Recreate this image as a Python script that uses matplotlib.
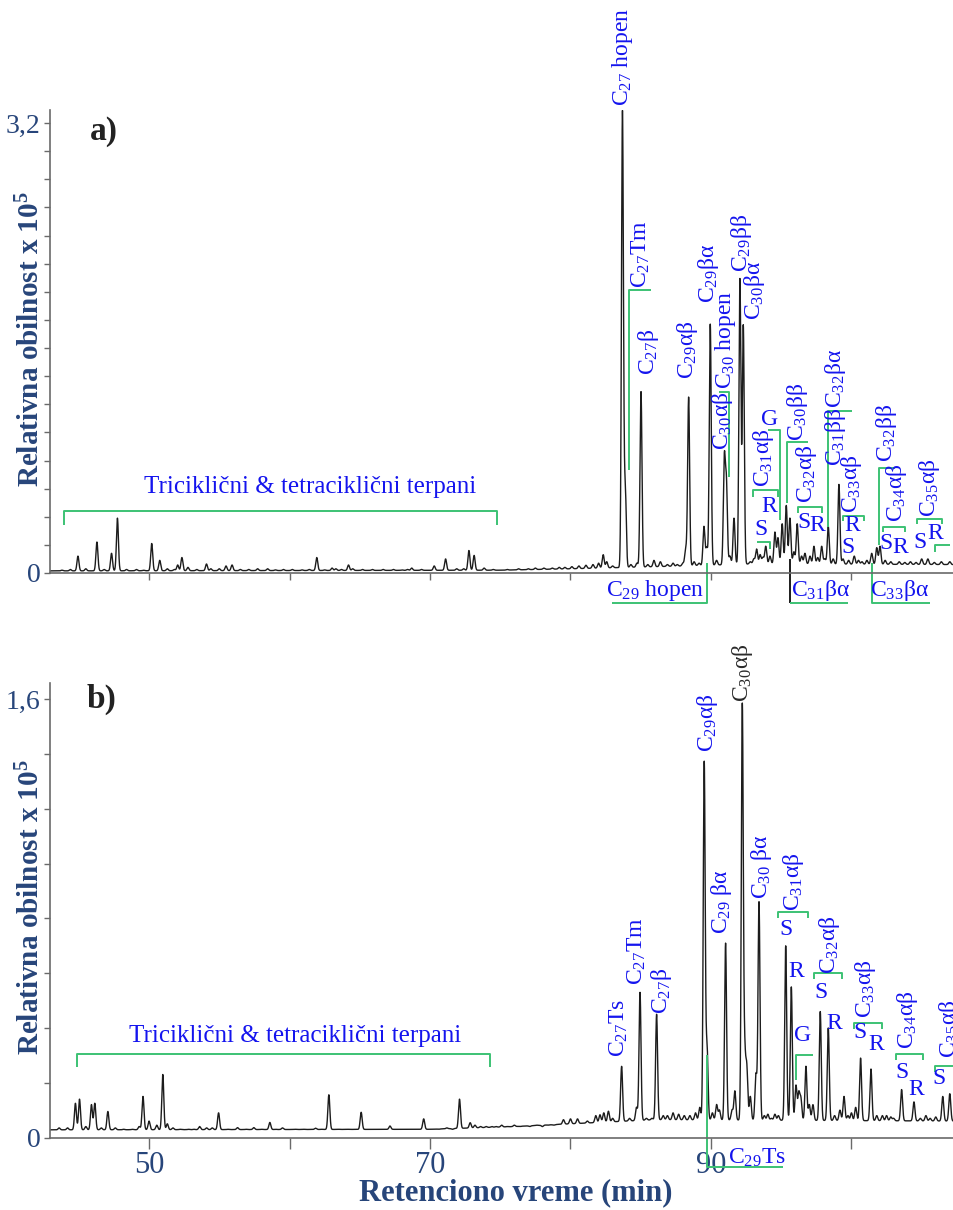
import numpy as np
import matplotlib.pyplot as plt

# ---- peaks (retention time in min, height x 1e5) ----
top_rt = [43.8, 44.4, 44.94, 45.5, 46.29, 46.8, 47.33, 47.75, 48.4, 49.1, 49.6, 50.19,
          50.76, 51.3, 51.8, 52.04, 52.34, 52.77, 53.4, 54.09, 54.4, 55.0, 55.48,
          55.91, 56.5, 57.1, 57.73, 58.44, 59.0, 59.57, 60.2, 60.9, 61.4, 61.94,
          62.5, 63.03, 63.3, 63.7, 64.2, 64.5, 65.2, 65.9, 66.67, 67.4, 68.0,
          68.4, 68.7, 69.4, 70.3, 71.11, 71.9, 72.4, 72.77, 73.14, 73.85, 74.5,
          75.5, 76.3, 77.0, 77.5, 78.1, 78.7, 79.2, 79.6, 80.1, 80.6, 81.1, 81.6,
          82.0, 82.33, 82.58, 83.0,
          83.7, 83.9, 84.3, 84.73, 85.02, 85.5, 85.94, 86.4, 86.9, 87.3, 87.6,
          88.0, 88.2, 88.41, 88.8, 89.15, 89.5, 89.7, 89.95, 90.4, 90.95, 91.1,
          91.35, 91.64, 92.06, 92.3, 92.8, 93.05, 93.25, 93.5, 93.7, 93.9, 94.2,
          94.55, 94.77, 95.07, 95.36, 95.62, 95.9, 96.14, 96.45, 96.69, 97.05,
          97.33, 97.6, 97.88, 98.1, 98.35, 98.7, 99.11, 99.4, 99.8, 100.2, 100.5,
          100.75, 101.1, 101.44, 101.8, 102.03, 102.4, 102.8, 103.4, 103.8, 104.2,
          104.6, 105.0, 105.44, 105.9, 106.4, 107.0]
top_height = [0.02, 0.025, 0.12, 0.03, 0.22, 0.025, 0.14, 0.39, 0.025, 0.025, 0.02, 0.21,
              0.09, 0.03, 0.025, 0.057, 0.11, 0.04, 0.025, 0.064, 0.03, 0.03, 0.05,
              0.057, 0.025, 0.025, 0.03, 0.03, 0.022, 0.025, 0.025, 0.022, 0.025, 0.11,
              0.022, 0.035, 0.03, 0.025, 0.057, 0.03, 0.025, 0.025, 0.025, 0.025, 0.022,
              0.025, 0.035, 0.025, 0.05, 0.10, 0.03, 0.03, 0.16, 0.125, 0.035, 0.025,
              0.025, 0.03, 0.03, 0.035, 0.035, 0.035, 0.04, 0.04, 0.045, 0.05, 0.055, 0.06,
              0.07, 0.13, 0.08, 0.05,
              3.28, 0.60, 0.06, 0.07, 1.29, 0.06, 0.09, 0.08, 0.06, 0.07, 0.06,
              0.07, 0.17, 1.25, 0.08, 0.07, 0.33, 0.18, 1.77, 0.09, 0.80, 0.62,
              0.12, 0.39, 2.09, 1.76, 0.08, 0.10, 0.17, 0.13, 0.11, 0.19, 0.12,
              0.29, 0.25, 0.35, 0.48, 0.39, 0.15, 0.35, 0.12, 0.14, 0.12,
              0.19, 0.11, 0.19, 0.10, 0.33, 0.10, 0.63, 0.10, 0.09, 0.12, 0.09,
              0.08, 0.09, 0.14, 0.18, 0.19, 0.09, 0.08, 0.08, 0.075, 0.08,
              0.075, 0.10, 0.10, 0.075, 0.08, 0.08]
top_base_rt = [42.8, 75, 80, 84, 88, 93, 107.6]
top_base = [0.015, 0.02, 0.03, 0.04, 0.05, 0.065, 0.06]

bot_rt = [43.6, 44.2, 44.76, 45.05, 45.5, 45.9, 46.14, 46.6, 47.07, 47.6, 48.2, 48.8,
          49.3, 49.57, 50.0, 50.55, 50.98, 51.3, 51.7, 52.2, 52.8, 53.2, 53.6, 54.1,
          54.5, 54.95, 55.6, 56.3, 56.9, 57.46, 58.0, 58.6, 59.0, 59.5, 60.4, 61.0,
          61.85, 62.3, 62.8, 63.5, 64.2, 65.1, 65.7, 66.4, 67.15, 67.9, 68.6, 69.1,
          69.55, 70.1, 70.6, 71.2, 71.6, 72.1, 72.86, 73.2, 73.6, 74.0, 74.4, 74.7,
          75.1, 75.5, 76.0, 76.4, 77.1, 77.6, 78.0, 78.4, 78.8, 79.5,
          80.0, 80.5, 81.2, 81.8, 82.1, 82.37, 82.7, 83.0, 83.64, 84.2, 84.7,
          84.95, 85.4, 85.8, 86.13, 86.6, 86.9, 87.3, 87.7, 88.1, 88.5, 88.9,
          89.2, 89.52, 89.72, 90.1, 90.4, 90.6, 91.04, 91.5, 91.7, 92.23, 92.4, 92.55,
          92.8, 93.2, 93.42, 93.8, 94.05, 94.3, 94.55, 94.8, 95.32, 95.72, 96.05, 96.25,
          96.4, 96.76, 97.0, 97.26, 97.78, 98.35, 98.8, 99.18, 99.47, 99.75, 100.0, 100.3,
          100.65, 101.39, 101.8, 102.2, 102.5, 102.8, 103.0, 103.57, 104.45, 104.9,
          105.3, 105.6, 106.0, 106.5, 107.0]
bot_height = [0.035, 0.035, 0.125, 0.14, 0.04, 0.12, 0.125, 0.035, 0.095, 0.035, 0.03, 0.03,
              0.04, 0.15, 0.06, 0.045, 0.23, 0.05, 0.035, 0.03, 0.03, 0.03, 0.04, 0.035,
              0.035, 0.09, 0.03, 0.036, 0.03, 0.036, 0.03, 0.055, 0.03, 0.035, 0.03, 0.03,
              0.034, 0.03, 0.156, 0.03, 0.03, 0.092, 0.03, 0.03, 0.042, 0.03, 0.03, 0.03,
              0.068, 0.03, 0.03, 0.035, 0.03, 0.14, 0.054, 0.045, 0.04, 0.04, 0.04, 0.04,
              0.045, 0.04, 0.045, 0.04, 0.04, 0.045, 0.04, 0.045, 0.045, 0.065,
              0.068, 0.068, 0.06, 0.08, 0.083, 0.09, 0.096, 0.07, 0.26, 0.07, 0.11,
              0.53, 0.07, 0.07, 0.45, 0.08, 0.08, 0.09, 0.085, 0.08, 0.08, 0.09,
              0.11, 1.37, 0.33, 0.09, 0.12, 0.10, 0.71, 0.10, 0.17, 1.575, 0.29, 0.25,
              0.15, 0.23, 0.86, 0.08, 0.085, 0.07, 0.085, 0.08, 0.70, 0.55, 0.19, 0.16,
              0.14, 0.26, 0.12, 0.12, 0.46, 0.40, 0.08, 0.10, 0.15, 0.08, 0.09, 0.11,
              0.29, 0.25, 0.08, 0.08, 0.08, 0.075, 0.07, 0.175, 0.13, 0.07,
              0.08, 0.07, 0.075, 0.15, 0.16]
bot_base_rt = [42.8, 70, 76, 82, 86, 107.6]
bot_base = [0.028, 0.03, 0.04, 0.055, 0.065, 0.06]

BLUE = '#1414ee'
GREEN = '#3cc274'
NAVY = '#27457a'
LINE = '#1c1c1c'
SPINE = '#6a6a6a'

plt.rcParams['font.family'] = ['Liberation Serif', 'DejaVu Serif']
plt.rcParams['mathtext.fontset'] = 'custom'
plt.rcParams['mathtext.rm'] = 'Liberation Serif'
plt.rcParams['mathtext.it'] = 'Liberation Serif:italic'
plt.rcParams['mathtext.bf'] = 'Liberation Serif:bold'


def trace(rt, height, base_rt, base, sigma=0.07):
    t = np.arange(42.8, 107.6, 0.005)
    y = np.interp(t, base_rt, base)
    for r, h in zip(rt, height):
        amp = h - np.interp(r, base_rt, base)
        y = y + amp * np.exp(-0.5 * ((t - r) / sigma) ** 2)
    return t, y


def vlab(ax, t, v, s, color=BLUE):
    ax.text(t, v, s, rotation=90, ha='center', va='bottom', fontsize=17,
            color=color, clip_on=False)


def hlab(ax, t, v, s, size=17):
    ax.text(t, v, s, ha='center', va='center', fontsize=size, color=BLUE,
            clip_on=False)


def bracket(ax, ts, vs, color=GREEN):
    ax.plot(ts, vs, color=color, lw=1.4, clip_on=False, solid_capstyle='butt')


def style(ax, ymax, ytop_label, xlen):
    ax.set_xlim(42.95, 107.3)
    ax.set_ylim(0, ymax)
    for side in ['top', 'right']:
        ax.spines[side].set_visible(False)
    for side in ['left', 'bottom']:
        ax.spines[side].set_color(SPINE)
        ax.spines[side].set_linewidth(1.2)
    ticks = np.round(np.arange(0, float(ytop_label.replace(',', '.')) + 0.01, 0.2), 2)
    ax.set_yticks(ticks)
    ax.set_yticklabels(['0'] + [''] * (len(ticks) - 2) + [ytop_label])
    ax.tick_params(axis='y', direction='out', length=4, width=1, color=SPINE,
                   labelsize=20, labelcolor=NAVY, pad=3)
    ax.tick_params(axis='x', direction='out', length=xlen, width=1, color=SPINE,
                   labelsize=22, labelcolor=NAVY, pad=2)
    ax.set_xticks([50, 60, 70, 80, 90, 100])


fig = plt.figure(figsize=(9.54, 12.10), dpi=100)
ax1 = fig.add_axes([50 / 954, 1 - 573 / 1210, 1 - 50 / 954, (573 - 110) / 1210])
ax2 = fig.add_axes([50 / 954, 1 - 1137.5 / 1210, 1 - 50 / 954, (1137.5 - 683) / 1210])

# ---------------- a) ----------------
t, y = trace(top_rt, top_height, top_base_rt, top_base)
ax1.plot(t, y, color=LINE, lw=1.0)
style(ax1, 3.293, '3,2', 5)
ax1.set_xticklabels([])

vlab(ax1, 83.67, 3.32, 'C$_{27}$ hopen')
vlab(ax1, 85.02, 2.03, 'C$_{27}$Tm')
vlab(ax1, 85.52, 1.41, 'C$_{27}$β')
vlab(ax1, 88.36, 1.38, 'C$_{29}$αβ')
vlab(ax1, 89.86, 1.92, 'C$_{29}$βα')
vlab(ax1, 91.0, 1.31, 'C$_{30}$ hopen')
vlab(ax1, 90.85, 0.875, 'C$_{30}$αβ')
vlab(ax1, 92.2, 2.14, 'C$_{29}$ββ')
vlab(ax1, 93.13, 1.80, 'C$_{30}$βα')
vlab(ax1, 93.77, 0.61, 'C$_{31}$αβ')
vlab(ax1, 96.19, 0.94, 'C$_{30}$ββ')
vlab(ax1, 96.83, 0.50, 'C$_{32}$αβ')
vlab(ax1, 98.9, 1.17, 'C$_{32}$βα')
vlab(ax1, 98.85, 0.76, 'C$_{31}$ββ')
vlab(ax1, 100.0, 0.43, 'C$_{33}$αβ')
vlab(ax1, 102.53, 0.79, 'C$_{32}$ββ')
vlab(ax1, 103.24, 0.36, 'C$_{34}$αβ')
vlab(ax1, 105.59, 0.40, 'C$_{35}$αβ')

hlab(ax1, 94.2, 1.09, 'G')
hlab(ax1, 94.13, 0.47, 'R')
hlab(ax1, 93.56, 0.31, 'S')
hlab(ax1, 96.62, 0.36, 'S')
hlab(ax1, 97.6, 0.34, 'R')
hlab(ax1, 100.04, 0.34, 'R')
hlab(ax1, 99.75, 0.18, 'S')
hlab(ax1, 102.45, 0.21, 'S')
hlab(ax1, 103.45, 0.18, 'R')
hlab(ax1, 104.88, 0.22, 'S')
hlab(ax1, 105.94, 0.28, 'R')

bracket(ax1, [84.16, 84.16, 85.73], [0.73, 2.01, 2.01])
bracket(ax1, [90.57, 91.28, 91.28], [1.29, 1.29, 0.68])
bracket(ax1, [92.99, 92.99, 94.77, 94.77], [0.54, 0.59, 0.59, 0.54])
bracket(ax1, [94.06, 94.91, 94.91], [1.02, 1.02, 0.38])
bracket(ax1, [96.9, 95.41, 95.41], [0.93, 0.93, 0.50])
bracket(ax1, [96.19, 96.19, 97.9, 97.9], [0.43, 0.47, 0.47, 0.43])
bracket(ax1, [100.04, 98.33, 98.33], [1.15, 1.15, 0.33])
bracket(ax1, [99.4, 99.4, 100.9, 100.9], [0.37, 0.405, 0.405, 0.37])
bracket(ax1, [103.1, 101.96, 101.96], [0.75, 0.75, 0.20])
bracket(ax1, [102.24, 102.24, 103.8, 103.8], [0.29, 0.33, 0.33, 0.29])
bracket(ax1, [104.66, 104.66, 106.44, 106.44], [0.35, 0.384, 0.384, 0.35])
bracket(ax1, [93.27, 94.2, 94.2], [0.22, 0.22, 0.17])
bracket(ax1, [105.94, 105.94, 106.98], [0.15, 0.2, 0.2])

# below the axis
hlab(ax1, 86.01, -0.128, 'C$_{29}$ hopen')
bracket(ax1, [82.95, 89.72, 89.72], [-0.213, -0.213, 0.071])
hlab(ax1, 97.76, -0.121, 'C$_{31}$βα')
bracket(ax1, [95.62, 95.62], [0.1, -0.213], color=LINE)
bracket(ax1, [95.62, 99.75], [-0.213, -0.213])
hlab(ax1, 103.45, -0.121, 'C$_{33}$βα')
bracket(ax1, [101.46, 101.46, 105.59], [0.071, -0.213, -0.213])

hlab(ax1, 61.46, 0.61, 'Triciklični & tetraciklični terpani', size=18)
bracket(ax1, [43.95, 43.95, 74.77, 74.77], [0.34, 0.44, 0.44, 0.34])

# ---------------- b) ----------------
t, y = trace(bot_rt, bot_height, bot_base_rt, bot_base)
ax2.plot(t, y, color=LINE, lw=1.0)
style(ax2, 1.66, '1,6', 8)
ax2.set_xticklabels(['50', '', '70', '', '90', ''])

vlab(ax2, 83.45, 0.294, 'C$_{27}$Ts')
vlab(ax2, 84.73, 0.557, 'C$_{27}$Tm')
vlab(ax2, 86.51, 0.451, 'C$_{27}$β')
vlab(ax2, 89.72, 1.408, 'C$_{29}$αβ')
vlab(ax2, 92.21, 1.591, 'C$_{30}$αβ', color='#2a2a2a')
vlab(ax2, 90.78, 0.743, 'C$_{29}$ βα')
vlab(ax2, 93.63, 0.871, 'C$_{30}$ βα')
vlab(ax2, 95.84, 0.827, 'C$_{31}$αβ')
vlab(ax2, 98.47, 0.597, 'C$_{32}$αβ')
vlab(ax2, 101.03, 0.437, 'C$_{33}$αβ')
vlab(ax2, 104.02, 0.323, 'C$_{34}$αβ')
vlab(ax2, 107.0, 0.29, 'C$_{35}$αβ')

hlab(ax2, 95.34, 0.758, 'S')
hlab(ax2, 96.05, 0.605, 'R')
hlab(ax2, 96.55, 0.374, 'G')
hlab(ax2, 97.83, 0.528, 'S')
hlab(ax2, 98.75, 0.415, 'R')
hlab(ax2, 100.6, 0.385, 'S')
hlab(ax2, 101.74, 0.338, 'R')
hlab(ax2, 103.59, 0.239, 'S')
hlab(ax2, 104.59, 0.174, 'R')
hlab(ax2, 106.23, 0.217, 'S')

bracket(ax2, [94.77, 94.77, 96.9, 96.9], [0.80, 0.824, 0.824, 0.80])
bracket(ax2, [97.26, 96.05, 96.05], [0.301, 0.301, 0.21])
bracket(ax2, [97.33, 97.33, 99.32, 99.32], [0.579, 0.601, 0.601, 0.579])
bracket(ax2, [100.18, 100.18, 102.17, 102.17], [0.396, 0.418, 0.418, 0.396])
bracket(ax2, [103.17, 103.17, 105.09, 105.09], [0.283, 0.305, 0.305, 0.283])
bracket(ax2, [105.94, 105.94, 107.7], [0.24, 0.261, 0.261])

hlab(ax2, 93.27, -0.075, 'C$_{29}$Ts')
bracket(ax2, [89.72, 89.72, 95.12], [0.301, -0.108, -0.108])

hlab(ax2, 60.39, 0.37, 'Triciklični & tetraciklični terpani', size=18)
bracket(ax2, [44.88, 44.88, 74.27, 74.27], [0.258, 0.305, 0.305, 0.258])

# ---------------- frame texts ----------------
fig.text(0.109, 0.891, 'a)', fontsize=24, fontweight='bold', color='#222222',
         ha='center', va='center')
fig.text(0.106, 0.422, 'b)', fontsize=24, fontweight='bold', color='#222222',
         ha='center', va='center')
for yc in [0.72, 0.25]:
    fig.text(0.033, yc, 'Relativna obilnost x 10$^{\\mathbf{5}}$', rotation=90,
             fontsize=21, fontweight='bold', color=NAVY, ha='center', va='center')
fig.text(0.541, 0.014, 'Retenciono vreme (min)', fontsize=22, fontweight='bold',
         color=NAVY, ha='center', va='center')

fig.savefig('out.png', dpi=100)
